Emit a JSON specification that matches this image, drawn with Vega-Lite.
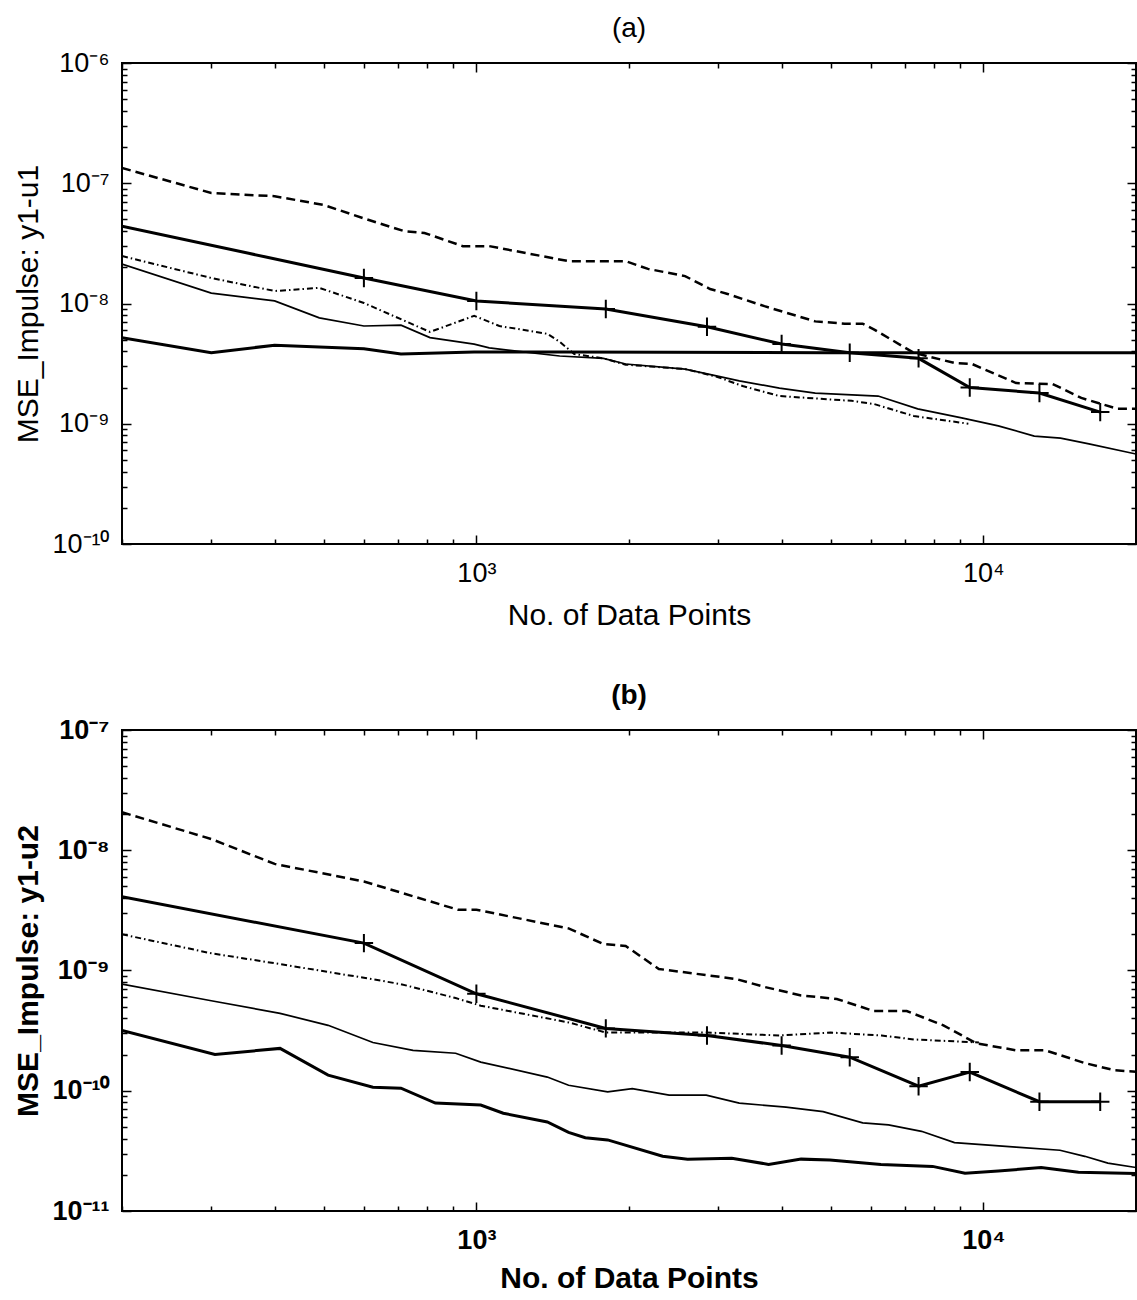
{
  "$schema": "https://vega.github.io/schema/vega-lite/v6.json",
  "background": "white",
  "padding": {"left": 12, "top": 14, "right": 0, "bottom": 0},
  "spacing": 50,
  "config": {
    "view": {"stroke": "black", "strokeWidth": 2},
    "font": "Liberation Sans",
    "axis": {
      "domain": false,
      "grid": false,
      "labelFont": "Liberation Sans",
      "labelFontSize": 27,
      "labelColor": "black",
      "titleFont": "Liberation Sans",
      "titleFontSize": 30,
      "titleColor": "black",
      "titleFontWeight": "normal",
      "tickColor": "black",
      "tickWidth": 1.5,
      "labelOverlap": false,
      "labelFlush": false
    },
    "title": {"font": "Liberation Sans", "fontSize": 28, "fontWeight": "normal", "color": "black", "offset": 6}
  },
  "datasets": {
    "a": [
      {"s":"dash","n":200,"v":1.34e-7},{"s":"dash","n":300,"v":8.3e-8},{"s":"dash","n":400,"v":7.8e-8},{"s":"dash","n":500,"v":6.6e-8},{"s":"dash","n":600,"v":5.1e-8},{"s":"dash","n":720,"v":4.0e-8},{"s":"dash","n":790,"v":3.86e-8},{"s":"dash","n":940,"v":3.0e-8},{"s":"dash","n":1060,"v":3.0e-8},{"s":"dash","n":1520,"v":2.25e-8},{"s":"dash","n":1970,"v":2.25e-8},{"s":"dash","n":2180,"v":1.94e-8},{"s":"dash","n":2580,"v":1.69e-8},{"s":"dash","n":2890,"v":1.32e-8},{"s":"dash","n":3130,"v":1.2e-8},{"s":"dash","n":3700,"v":9.5e-9},{"s":"dash","n":4660,"v":7.1e-9},{"s":"dash","n":5330,"v":6.8e-9},{"s":"dash","n":5780,"v":6.8e-9},{"s":"dash","n":6080,"v":6.1e-9},{"s":"dash","n":7280,"v":3.9e-9},{"s":"dash","n":8770,"v":3.2e-9},{"s":"dash","n":9500,"v":3.14e-9},{"s":"dash","n":11600,"v":2.18e-9},{"s":"dash","n":13700,"v":2.14e-9},{"s":"dash","n":15600,"v":1.64e-9},{"s":"dash","n":18400,"v":1.33e-9},{"s":"dash","n":20000,"v":1.33e-9},
      {"s":"plus","n":200,"v":4.4e-8},{"s":"plus","n":600,"v":1.63e-8},{"s":"plus","n":1000,"v":1.05e-8},{"s":"plus","n":1800,"v":9.0e-9},{"s":"plus","n":2850,"v":6.4e-9},{"s":"plus","n":4000,"v":4.6e-9},{"s":"plus","n":5450,"v":3.9e-9},{"s":"plus","n":7450,"v":3.5e-9},{"s":"plus","n":9400,"v":2.0e-9},{"s":"plus","n":12900,"v":1.8e-9},{"s":"plus","n":17000,"v":1.25e-9},
      {"s":"dashdot","n":200,"v":2.48e-8},{"s":"dashdot","n":300,"v":1.63e-8},{"s":"dashdot","n":400,"v":1.27e-8},{"s":"dashdot","n":490,"v":1.35e-8},{"s":"dashdot","n":600,"v":1.01e-8},{"s":"dashdot","n":810,"v":5.8e-9},{"s":"dashdot","n":990,"v":7.9e-9},{"s":"dashdot","n":1110,"v":6.5e-9},{"s":"dashdot","n":1380,"v":5.6e-9},{"s":"dashdot","n":1460,"v":4.8e-9},{"s":"dashdot","n":1560,"v":3.8e-9},{"s":"dashdot","n":1780,"v":3.5e-9},{"s":"dashdot","n":1970,"v":3.1e-9},{"s":"dashdot","n":2580,"v":2.85e-9},{"s":"dashdot","n":2990,"v":2.45e-9},{"s":"dashdot","n":3350,"v":2.06e-9},{"s":"dashdot","n":3960,"v":1.7e-9},{"s":"dashdot","n":5500,"v":1.55e-9},{"s":"dashdot","n":6080,"v":1.46e-9},{"s":"dashdot","n":7290,"v":1.16e-9},{"s":"dashdot","n":9340,"v":1.0e-9},
      {"s":"thin","n":200,"v":2.13e-8},{"s":"thin","n":300,"v":1.22e-8},{"s":"thin","n":400,"v":1.05e-8},{"s":"thin","n":490,"v":7.6e-9},{"s":"thin","n":600,"v":6.5e-9},{"s":"thin","n":710,"v":6.6e-9},{"s":"thin","n":810,"v":5.2e-9},{"s":"thin","n":990,"v":4.6e-9},{"s":"thin","n":1060,"v":4.27e-9},{"s":"thin","n":1460,"v":3.66e-9},{"s":"thin","n":1780,"v":3.5e-9},{"s":"thin","n":1970,"v":3.14e-9},{"s":"thin","n":2580,"v":2.85e-9},{"s":"thin","n":2990,"v":2.49e-9},{"s":"thin","n":3300,"v":2.27e-9},{"s":"thin","n":3960,"v":1.98e-9},{"s":"thin","n":4660,"v":1.8e-9},{"s":"thin","n":6200,"v":1.7e-9},{"s":"thin","n":7420,"v":1.33e-9},{"s":"thin","n":9060,"v":1.12e-9},{"s":"thin","n":10700,"v":9.6e-10},{"s":"thin","n":12600,"v":7.9e-10},{"s":"thin","n":14200,"v":7.6e-10},{"s":"thin","n":16150,"v":6.8e-10},{"s":"thin","n":20000,"v":5.6e-10},
      {"s":"thick","n":200,"v":5.2e-9},{"s":"thick","n":300,"v":3.9e-9},{"s":"thick","n":400,"v":4.5e-9},{"s":"thick","n":600,"v":4.2e-9},{"s":"thick","n":710,"v":3.8e-9},{"s":"thick","n":990,"v":3.95e-9},{"s":"thick","n":1500,"v":3.95e-9},{"s":"thick","n":5000,"v":3.9e-9},{"s":"thick","n":20000,"v":3.9e-9}
    ],
    "b": [
      {"s":"dash","n":200,"v":2.07e-8},{"s":"dash","n":300,"v":1.24e-8},{"s":"dash","n":400,"v":7.7e-9},{"s":"dash","n":600,"v":5.5e-9},{"s":"dash","n":920,"v":3.2e-9},{"s":"dash","n":1000,"v":3.2e-9},{"s":"dash","n":1520,"v":2.24e-9},{"s":"dash","n":1780,"v":1.66e-9},{"s":"dash","n":1970,"v":1.6e-9},{"s":"dash","n":2290,"v":1.03e-9},{"s":"dash","n":3250,"v":8.5e-10},{"s":"dash","n":3700,"v":7.3e-10},{"s":"dash","n":4370,"v":6.2e-10},{"s":"dash","n":5140,"v":5.8e-10},{"s":"dash","n":6080,"v":4.6e-10},{"s":"dash","n":7060,"v":4.6e-10},{"s":"dash","n":8340,"v":3.5e-10},{"s":"dash","n":9680,"v":2.48e-10},{"s":"dash","n":11600,"v":2.17e-10},{"s":"dash","n":13240,"v":2.17e-10},{"s":"dash","n":15850,"v":1.7e-10},{"s":"dash","n":18150,"v":1.48e-10},{"s":"dash","n":20000,"v":1.44e-10},
      {"s":"plus","n":200,"v":4.1e-9},{"s":"plus","n":600,"v":1.69e-9},{"s":"plus","n":1000,"v":6.4e-10},{"s":"plus","n":1800,"v":3.3e-10},{"s":"plus","n":2850,"v":2.88e-10},{"s":"plus","n":4000,"v":2.38e-10},{"s":"plus","n":5450,"v":1.9e-10},{"s":"plus","n":7450,"v":1.09e-10},{"s":"plus","n":9400,"v":1.43e-10},{"s":"plus","n":12900,"v":8.1e-11},{"s":"plus","n":17000,"v":8.1e-11},
      {"s":"dashdot","n":200,"v":2.0e-9},{"s":"dashdot","n":300,"v":1.39e-9},{"s":"dashdot","n":400,"v":1.15e-9},{"s":"dashdot","n":600,"v":8.7e-10},{"s":"dashdot","n":710,"v":7.7e-10},{"s":"dashdot","n":910,"v":5.9e-10},{"s":"dashdot","n":1020,"v":5.1e-10},{"s":"dashdot","n":1520,"v":3.7e-10},{"s":"dashdot","n":1800,"v":3.05e-10},{"s":"dashdot","n":2850,"v":3.05e-10},{"s":"dashdot","n":3960,"v":2.88e-10},{"s":"dashdot","n":5000,"v":3.05e-10},{"s":"dashdot","n":6300,"v":2.88e-10},{"s":"dashdot","n":7300,"v":2.67e-10},{"s":"dashdot","n":9800,"v":2.52e-10},
      {"s":"thin","n":200,"v":7.7e-10},{"s":"thin","n":300,"v":5.6e-10},{"s":"thin","n":410,"v":4.4e-10},{"s":"thin","n":510,"v":3.5e-10},{"s":"thin","n":625,"v":2.52e-10},{"s":"thin","n":750,"v":2.17e-10},{"s":"thin","n":910,"v":2.05e-10},{"s":"thin","n":1020,"v":1.73e-10},{"s":"thin","n":1380,"v":1.3e-10},{"s":"thin","n":1520,"v":1.11e-10},{"s":"thin","n":1815,"v":9.8e-11},{"s":"thin","n":2030,"v":1.04e-10},{"s":"thin","n":2400,"v":9.2e-11},{"s":"thin","n":2840,"v":9.2e-11},{"s":"thin","n":3300,"v":7.9e-11},{"s":"thin","n":4080,"v":7.3e-11},{"s":"thin","n":4830,"v":6.7e-11},{"s":"thin","n":5780,"v":5.4e-11},{"s":"thin","n":6500,"v":5.2e-11},{"s":"thin","n":7550,"v":4.6e-11},{"s":"thin","n":8770,"v":3.7e-11},{"s":"thin","n":11600,"v":3.4e-11},{"s":"thin","n":14160,"v":3.2e-11},{"s":"thin","n":15850,"v":2.85e-11},{"s":"thin","n":17600,"v":2.5e-11},{"s":"thin","n":20000,"v":2.3e-11},
      {"s":"thick","n":200,"v":3.17e-10},{"s":"thick","n":305,"v":2.0e-10},{"s":"thick","n":410,"v":2.25e-10},{"s":"thick","n":510,"v":1.35e-10},{"s":"thick","n":625,"v":1.07e-10},{"s":"thick","n":710,"v":1.05e-10},{"s":"thick","n":830,"v":7.9e-11},{"s":"thick","n":1020,"v":7.6e-11},{"s":"thick","n":1130,"v":6.5e-11},{"s":"thick","n":1380,"v":5.5e-11},{"s":"thick","n":1520,"v":4.5e-11},{"s":"thick","n":1640,"v":4.07e-11},{"s":"thick","n":1815,"v":3.9e-11},{"s":"thick","n":2330,"v":2.85e-11},{"s":"thick","n":2610,"v":2.7e-11},{"s":"thick","n":3190,"v":2.75e-11},{"s":"thick","n":3770,"v":2.44e-11},{"s":"thick","n":4370,"v":2.7e-11},{"s":"thick","n":4980,"v":2.65e-11},{"s":"thick","n":6280,"v":2.44e-11},{"s":"thick","n":7940,"v":2.35e-11},{"s":"thick","n":9200,"v":2.06e-11},{"s":"thick","n":10700,"v":2.15e-11},{"s":"thick","n":13000,"v":2.3e-11},{"s":"thick","n":15400,"v":2.1e-11},{"s":"thick","n":20000,"v":2.05e-11}
    ]
  },
  "vconcat": [
    {
      "title": {"text": "(a)"},
      "width": 1014,
      "height": 481,
      "data": {"name": "a"},
      "resolve": {"axis": {"x": "independent", "y": "independent"}},
      "layer": [
        {
          "transform": [{"filter": "datum.s == 'dash'"}],
          "mark": {"type": "line", "color": "black", "strokeWidth": 2.5, "strokeDash": [9, 5], "clip": true},
          "encoding": {
            "x": {"field": "n", "type": "quantitative", "scale": {"type": "log", "domain": [200, 20000], "nice": false},
              "axis": {"orient": "bottom", "title": "No. of Data Points", "titlePadding": 10,
                "values": [200,300,400,500,600,700,800,900,1000,2000,3000,4000,5000,6000,7000,8000,9000,10000,20000],
                "labelExpr": "abs(log(datum.value)/LN10 - round(log(datum.value)/LN10)) < 0.01 ? ['10²','10³','10⁴'][round(log(datum.value)/LN10) - 2] : ''",
                "tickSize": {"condition": {"test": "abs(log(datum.value)/LN10 - round(log(datum.value)/LN10)) < 0.01", "value": -9}, "value": -5},
                "labelPadding": 25}},
            "y": {"field": "v", "type": "quantitative", "scale": {"type": "log", "domain": [1e-10, 1e-6], "nice": false},
              "axis": {"orient": "left", "title": "MSE_Impulse: y1-u1", "titlePadding": 8,
                "values": [1e-10,2e-10,3e-10,4e-10,5e-10,6e-10,7e-10,8e-10,9e-10,1e-9,2e-9,3e-9,4e-9,5e-9,6e-9,7e-9,8e-9,9e-9,1e-8,2e-8,3e-8,4e-8,5e-8,6e-8,7e-8,8e-8,9e-8,1e-7,2e-7,3e-7,4e-7,5e-7,6e-7,7e-7,8e-7,9e-7,1e-6],
                "labelExpr": "abs(log(datum.value)/LN10 - round(log(datum.value)/LN10)) < 0.01 ? ['10⁻¹¹','10⁻¹⁰','10⁻⁹','10⁻⁸','10⁻⁷','10⁻⁶'][round(log(datum.value)/LN10) + 11] : ''",
                "tickSize": {"condition": {"test": "abs(log(datum.value)/LN10 - round(log(datum.value)/LN10)) < 0.01", "value": -9}, "value": -5},
                "labelPadding": 22}}
          }
        },
        {
          "transform": [{"filter": "datum.s == 'plus'"}],
          "mark": {"type": "line", "color": "black", "strokeWidth": 3, "clip": true},
          "encoding": {
            "x": {"field": "n", "type": "quantitative", "scale": {"type": "log", "domain": [200, 20000], "nice": false}, "axis": null},
            "y": {"field": "v", "type": "quantitative", "scale": {"type": "log", "domain": [1e-10, 1e-6], "nice": false}, "axis": null}
          }
        },
        {
          "transform": [{"filter": "datum.s == 'dashdot'"}],
          "mark": {"type": "line", "color": "black", "strokeWidth": 2, "strokeDash": [6, 3, 1.5, 3], "clip": true},
          "encoding": {
            "x": {"field": "n", "type": "quantitative", "scale": {"type": "log", "domain": [200, 20000], "nice": false}, "axis": null},
            "y": {"field": "v", "type": "quantitative", "scale": {"type": "log", "domain": [1e-10, 1e-6], "nice": false}, "axis": null}
          }
        },
        {
          "transform": [{"filter": "datum.s == 'thin'"}],
          "mark": {"type": "line", "color": "black", "strokeWidth": 1.7, "clip": true},
          "encoding": {
            "x": {"field": "n", "type": "quantitative", "scale": {"type": "log", "domain": [200, 20000], "nice": false}, "axis": null},
            "y": {"field": "v", "type": "quantitative", "scale": {"type": "log", "domain": [1e-10, 1e-6], "nice": false}, "axis": null}
          }
        },
        {
          "transform": [{"filter": "datum.s == 'thick'"}],
          "mark": {"type": "line", "color": "black", "strokeWidth": 3, "clip": true},
          "encoding": {
            "x": {"field": "n", "type": "quantitative", "scale": {"type": "log", "domain": [200, 20000], "nice": false}, "axis": null},
            "y": {"field": "v", "type": "quantitative", "scale": {"type": "log", "domain": [1e-10, 1e-6], "nice": false}, "axis": null}
          }
        },
        {
          "transform": [{"filter": "datum.s == 'plus' && datum.n > 200"}],
          "mark": {"type": "point", "shape": "M-1,0H1M0,-1V1", "size": 340, "filled": false, "color": "black", "strokeWidth": 2, "opacity": 1},
          "encoding": {
            "x": {"field": "n", "type": "quantitative", "scale": {"type": "log", "domain": [200, 20000], "nice": false},
              "axis": {"orient": "top", "title": null, "labels": false,
                "values": [200,300,400,500,600,700,800,900,1000,2000,3000,4000,5000,6000,7000,8000,9000,10000,20000],
                "tickSize": {"condition": {"test": "abs(log(datum.value)/LN10 - round(log(datum.value)/LN10)) < 0.01", "value": -9}, "value": -5}}},
            "y": {"field": "v", "type": "quantitative", "scale": {"type": "log", "domain": [1e-10, 1e-6], "nice": false},
              "axis": {"orient": "right", "title": null, "labels": false,
                "values": [1e-10,2e-10,3e-10,4e-10,5e-10,6e-10,7e-10,8e-10,9e-10,1e-9,2e-9,3e-9,4e-9,5e-9,6e-9,7e-9,8e-9,9e-9,1e-8,2e-8,3e-8,4e-8,5e-8,6e-8,7e-8,8e-8,9e-8,1e-7,2e-7,3e-7,4e-7,5e-7,6e-7,7e-7,8e-7,9e-7,1e-6],
                "tickSize": {"condition": {"test": "abs(log(datum.value)/LN10 - round(log(datum.value)/LN10)) < 0.01", "value": -9}, "value": -5}}}
          }
        }
      ]
    },
    {
      "title": {"text": "(b)", "fontWeight": "bold"},
      "width": 1014,
      "height": 481,
      "data": {"name": "b"},
      "resolve": {"axis": {"x": "independent", "y": "independent"}},
      "layer": [
        {
          "transform": [{"filter": "datum.s == 'dash'"}],
          "mark": {"type": "line", "color": "black", "strokeWidth": 2.5, "strokeDash": [9, 5], "clip": true},
          "encoding": {
            "x": {"field": "n", "type": "quantitative", "scale": {"type": "log", "domain": [200, 20000], "nice": false},
              "axis": {"orient": "bottom", "title": "No. of Data Points", "titlePadding": 6, "titleFontWeight": "bold", "labelFontWeight": "bold",
                "values": [200,300,400,500,600,700,800,900,1000,2000,3000,4000,5000,6000,7000,8000,9000,10000,20000],
                "labelExpr": "abs(log(datum.value)/LN10 - round(log(datum.value)/LN10)) < 0.01 ? ['10²','10³','10⁴'][round(log(datum.value)/LN10) - 2] : ''",
                "tickSize": {"condition": {"test": "abs(log(datum.value)/LN10 - round(log(datum.value)/LN10)) < 0.01", "value": -9}, "value": -5},
                "labelPadding": 25}},
            "y": {"field": "v", "type": "quantitative", "scale": {"type": "log", "domain": [1e-11, 1e-7], "nice": false},
              "axis": {"orient": "left", "title": "MSE_Impulse: y1-u2", "titlePadding": 8, "titleFontWeight": "bold", "labelFontWeight": "bold",
                "values": [1e-11,2e-11,3e-11,4e-11,5e-11,6e-11,7e-11,8e-11,9e-11,1e-10,2e-10,3e-10,4e-10,5e-10,6e-10,7e-10,8e-10,9e-10,1e-9,2e-9,3e-9,4e-9,5e-9,6e-9,7e-9,8e-9,9e-9,1e-8,2e-8,3e-8,4e-8,5e-8,6e-8,7e-8,8e-8,9e-8,1e-7],
                "labelExpr": "abs(log(datum.value)/LN10 - round(log(datum.value)/LN10)) < 0.01 ? ['10⁻¹¹','10⁻¹⁰','10⁻⁹','10⁻⁸','10⁻⁷','10⁻⁶'][round(log(datum.value)/LN10) + 11] : ''",
                "tickSize": {"condition": {"test": "abs(log(datum.value)/LN10 - round(log(datum.value)/LN10)) < 0.01", "value": -9}, "value": -5},
                "labelPadding": 22}}
          }
        },
        {
          "transform": [{"filter": "datum.s == 'plus'"}],
          "mark": {"type": "line", "color": "black", "strokeWidth": 3, "clip": true},
          "encoding": {
            "x": {"field": "n", "type": "quantitative", "scale": {"type": "log", "domain": [200, 20000], "nice": false}, "axis": null},
            "y": {"field": "v", "type": "quantitative", "scale": {"type": "log", "domain": [1e-11, 1e-7], "nice": false}, "axis": null}
          }
        },
        {
          "transform": [{"filter": "datum.s == 'dashdot'"}],
          "mark": {"type": "line", "color": "black", "strokeWidth": 2, "strokeDash": [6, 3, 1.5, 3], "clip": true},
          "encoding": {
            "x": {"field": "n", "type": "quantitative", "scale": {"type": "log", "domain": [200, 20000], "nice": false}, "axis": null},
            "y": {"field": "v", "type": "quantitative", "scale": {"type": "log", "domain": [1e-11, 1e-7], "nice": false}, "axis": null}
          }
        },
        {
          "transform": [{"filter": "datum.s == 'thin'"}],
          "mark": {"type": "line", "color": "black", "strokeWidth": 1.7, "clip": true},
          "encoding": {
            "x": {"field": "n", "type": "quantitative", "scale": {"type": "log", "domain": [200, 20000], "nice": false}, "axis": null},
            "y": {"field": "v", "type": "quantitative", "scale": {"type": "log", "domain": [1e-11, 1e-7], "nice": false}, "axis": null}
          }
        },
        {
          "transform": [{"filter": "datum.s == 'thick'"}],
          "mark": {"type": "line", "color": "black", "strokeWidth": 3, "clip": true},
          "encoding": {
            "x": {"field": "n", "type": "quantitative", "scale": {"type": "log", "domain": [200, 20000], "nice": false}, "axis": null},
            "y": {"field": "v", "type": "quantitative", "scale": {"type": "log", "domain": [1e-11, 1e-7], "nice": false}, "axis": null}
          }
        },
        {
          "transform": [{"filter": "datum.s == 'plus' && datum.n > 200"}],
          "mark": {"type": "point", "shape": "M-1,0H1M0,-1V1", "size": 340, "filled": false, "color": "black", "strokeWidth": 2, "opacity": 1},
          "encoding": {
            "x": {"field": "n", "type": "quantitative", "scale": {"type": "log", "domain": [200, 20000], "nice": false},
              "axis": {"orient": "top", "title": null, "labels": false,
                "values": [200,300,400,500,600,700,800,900,1000,2000,3000,4000,5000,6000,7000,8000,9000,10000,20000],
                "tickSize": {"condition": {"test": "abs(log(datum.value)/LN10 - round(log(datum.value)/LN10)) < 0.01", "value": -9}, "value": -5}}},
            "y": {"field": "v", "type": "quantitative", "scale": {"type": "log", "domain": [1e-11, 1e-7], "nice": false},
              "axis": {"orient": "right", "title": null, "labels": false,
                "values": [1e-11,2e-11,3e-11,4e-11,5e-11,6e-11,7e-11,8e-11,9e-11,1e-10,2e-10,3e-10,4e-10,5e-10,6e-10,7e-10,8e-10,9e-10,1e-9,2e-9,3e-9,4e-9,5e-9,6e-9,7e-9,8e-9,9e-9,1e-8,2e-8,3e-8,4e-8,5e-8,6e-8,7e-8,8e-8,9e-8,1e-7],
                "tickSize": {"condition": {"test": "abs(log(datum.value)/LN10 - round(log(datum.value)/LN10)) < 0.01", "value": -9}, "value": -5}}}
          }
        }
      ]
    }
  ]
}
